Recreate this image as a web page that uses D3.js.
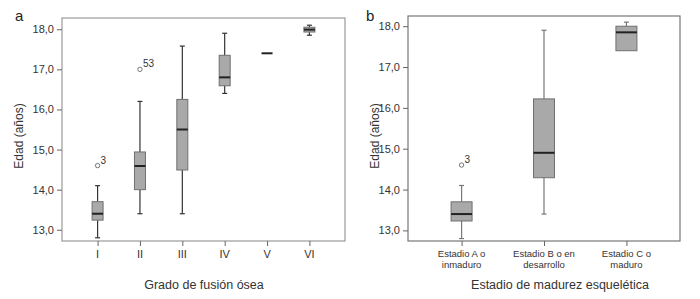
<!DOCTYPE html>
<html><head><meta charset="utf-8">
<script src="https://cdn.jsdelivr.net/npm/d3@7"></script>
<style>body{margin:0;background:#fff}svg{display:block}text{font-family:"Liberation Sans",Arial,sans-serif}</style>
</head><body><svg id="c" width="700" height="299"></svg>
<script>
// Panel a
const catsA = ["I","II","III","IV","V","VI"];
const lowA  = [12.8, 13.4, 13.4, 16.4, 17.4, 17.85];
const q1A   = [13.24, 14.0, 14.49, 16.59, 17.4, 17.93];
const medA  = [13.4, 14.59, 15.5, 16.8, 17.4, 17.99];
const q3A   = [13.7, 14.94, 16.25, 17.35, 17.4, 18.05];
const highA = [14.1, 16.2, 17.58, 17.9, 17.4, 18.1];
const outA  = [{cat:"I", v:14.6, label:"3"}, {cat:"II", v:17.0, label:"53"}];
// Panel b
const catsB = [["Estadio A o","inmaduro"],["Estadio B o en","desarrollo"],["Estadio C o","maduro"]];
const lowB  = [12.8, 13.4, 17.4];
const q1B   = [13.23, 14.29, 17.4];
const medB  = [13.4, 14.9, 17.85];
const q3B   = [13.7, 16.22, 18.0];
const highB = [14.1, 17.9, 18.1];
const outB  = [{cat:0, v:14.6, label:"3"}];
const yTicks = [13, 14, 15, 16, 17, 18];
const fmt = d => d.toFixed(1).replace(".", ",");

const svg = d3.select("#c");

function panel(o){
  const g = svg.append("g");
  const x = d3.scalePoint().domain(o.cats.map((c,i)=>i)).range([o.l,o.r]).padding(o.pad);
  const y = d3.scaleLinear().domain(o.yDom).range([o.b,o.t]);
  g.append("rect").attr("x",o.l).attr("y",o.t).attr("width",o.r-o.l).attr("height",o.b-o.t)
    .attr("fill","none").attr("stroke",o.frame).attr("stroke-width",1.2);
  const ya = g.append("g").attr("transform",`translate(${o.l},0)`)
    .call(d3.axisLeft(y).tickValues(yTicks).tickFormat(fmt).tickSize(5).tickPadding(3));
  ya.select(".domain").remove();
  ya.selectAll("line").attr("stroke","#666");
  ya.selectAll("text").attr("fill","#333").style("font-size","11px");
  const xa = g.append("g").attr("transform",`translate(0,${o.b})`)
    .call(d3.axisBottom(x).tickSize(5).tickFormat(()=>""));
  xa.select(".domain").remove();
  xa.selectAll("line").attr("stroke","#666");
  o.cats.forEach((c,i)=>{
    const lines = Array.isArray(c)?c:[c];
    lines.forEach((t,k)=>{
      g.append("text").attr("x",x(i)).attr("y",o.b+o.tickLabY+k*o.lineH).attr("text-anchor","middle")
        .attr("fill","#333").style("font-size",o.tickFs).text(t);
    });
  });
  const w = o.bw;
  o.cats.forEach((c,i)=>{
    const cx = x(i);
    const wl = o.wsk;
    if (o.low[i] < o.q1[i]) {
      g.append("line").attr("x1",cx).attr("x2",cx).attr("y1",y(o.low[i])).attr("y2",y(o.q1[i])).attr("stroke",wl).attr("stroke-width",1.2);
      g.append("line").attr("x1",cx-2.5).attr("x2",cx+2.5).attr("y1",y(o.low[i])).attr("y2",y(o.low[i])).attr("stroke",wl).attr("stroke-width",1.2);
    }
    if (o.high[i] > o.q3[i]) {
      g.append("line").attr("x1",cx).attr("x2",cx).attr("y1",y(o.high[i])).attr("y2",y(o.q3[i])).attr("stroke",wl).attr("stroke-width",1.2);
      g.append("line").attr("x1",cx-2.5).attr("x2",cx+2.5).attr("y1",y(o.high[i])).attr("y2",y(o.high[i])).attr("stroke",wl).attr("stroke-width",1.2);
    }
    if (o.q3[i] > o.q1[i]) {
      g.append("rect").attr("x",cx-w/2).attr("y",y(o.q3[i])).attr("width",w).attr("height",y(o.q1[i])-y(o.q3[i]))
        .attr("fill","#a9a9a9").attr("stroke","#707070").attr("stroke-width",1);
    }
    g.append("line").attr("x1",cx-w/2).attr("x2",cx+w/2).attr("y1",y(o.med[i])).attr("y2",y(o.med[i]))
      .attr("stroke","#222").attr("stroke-width",2);
  });
  o.out.forEach(p=>{
    const cx = x(p.cat);
    g.append("circle").attr("cx",cx).attr("cy",y(p.v)).attr("r",2.2).attr("fill","none").attr("stroke","#666").attr("stroke-width",0.9);
    g.append("text").attr("x",cx+3).attr("y",y(p.v)-2).attr("fill","#333").style("font-size","10px").text(p.label);
  });
  g.append("text").attr("transform",`translate(${o.ytx},${o.yty}) rotate(-90)`).attr("text-anchor","middle")
    .attr("fill","#333").style("font-size","12px").text("Edad (años)");
  g.append("text").attr("x",o.xtx).attr("y",289).attr("text-anchor","middle")
    .attr("fill","#333").style("font-size","12.5px").text(o.xTitle);
  g.append("text").attr("x",o.lx).attr("y",21).attr("fill","#222").style("font-size","15px").text(o.letter);
}

panel({cats:catsA, low:lowA, q1:q1A, med:medA, q3:q3A, high:highA,
  out:outA.map(p=>({cat:catsA.indexOf(p.cat), v:p.v, label:p.label})),
  l:62, r:345, t:18, b:241, pad:0.84, yDom:[12.72,18.28], frame:"#999", wsk:"#333", bw:11,
  tickLabY:17, lineH:11, tickFs:"11px", ytx:23, yty:136, xtx:204, xTitle:"Grado de fusión ósea", lx:15, letter:"a"});

panel({cats:catsB, low:lowB, q1:q1B, med:medB, q3:q3B, high:highB, out:outB,
  l:408, r:680, t:16, b:241, pad:0.65, yDom:[12.74,18.25], frame:"#777", wsk:"#777", bw:21,
  tickLabY:16, lineH:11, tickFs:"9.5px", ytx:379, yty:136, xtx:560, xTitle:"Estadio de madurez esquelética", lx:366, letter:"b"});
</script></body></html>
